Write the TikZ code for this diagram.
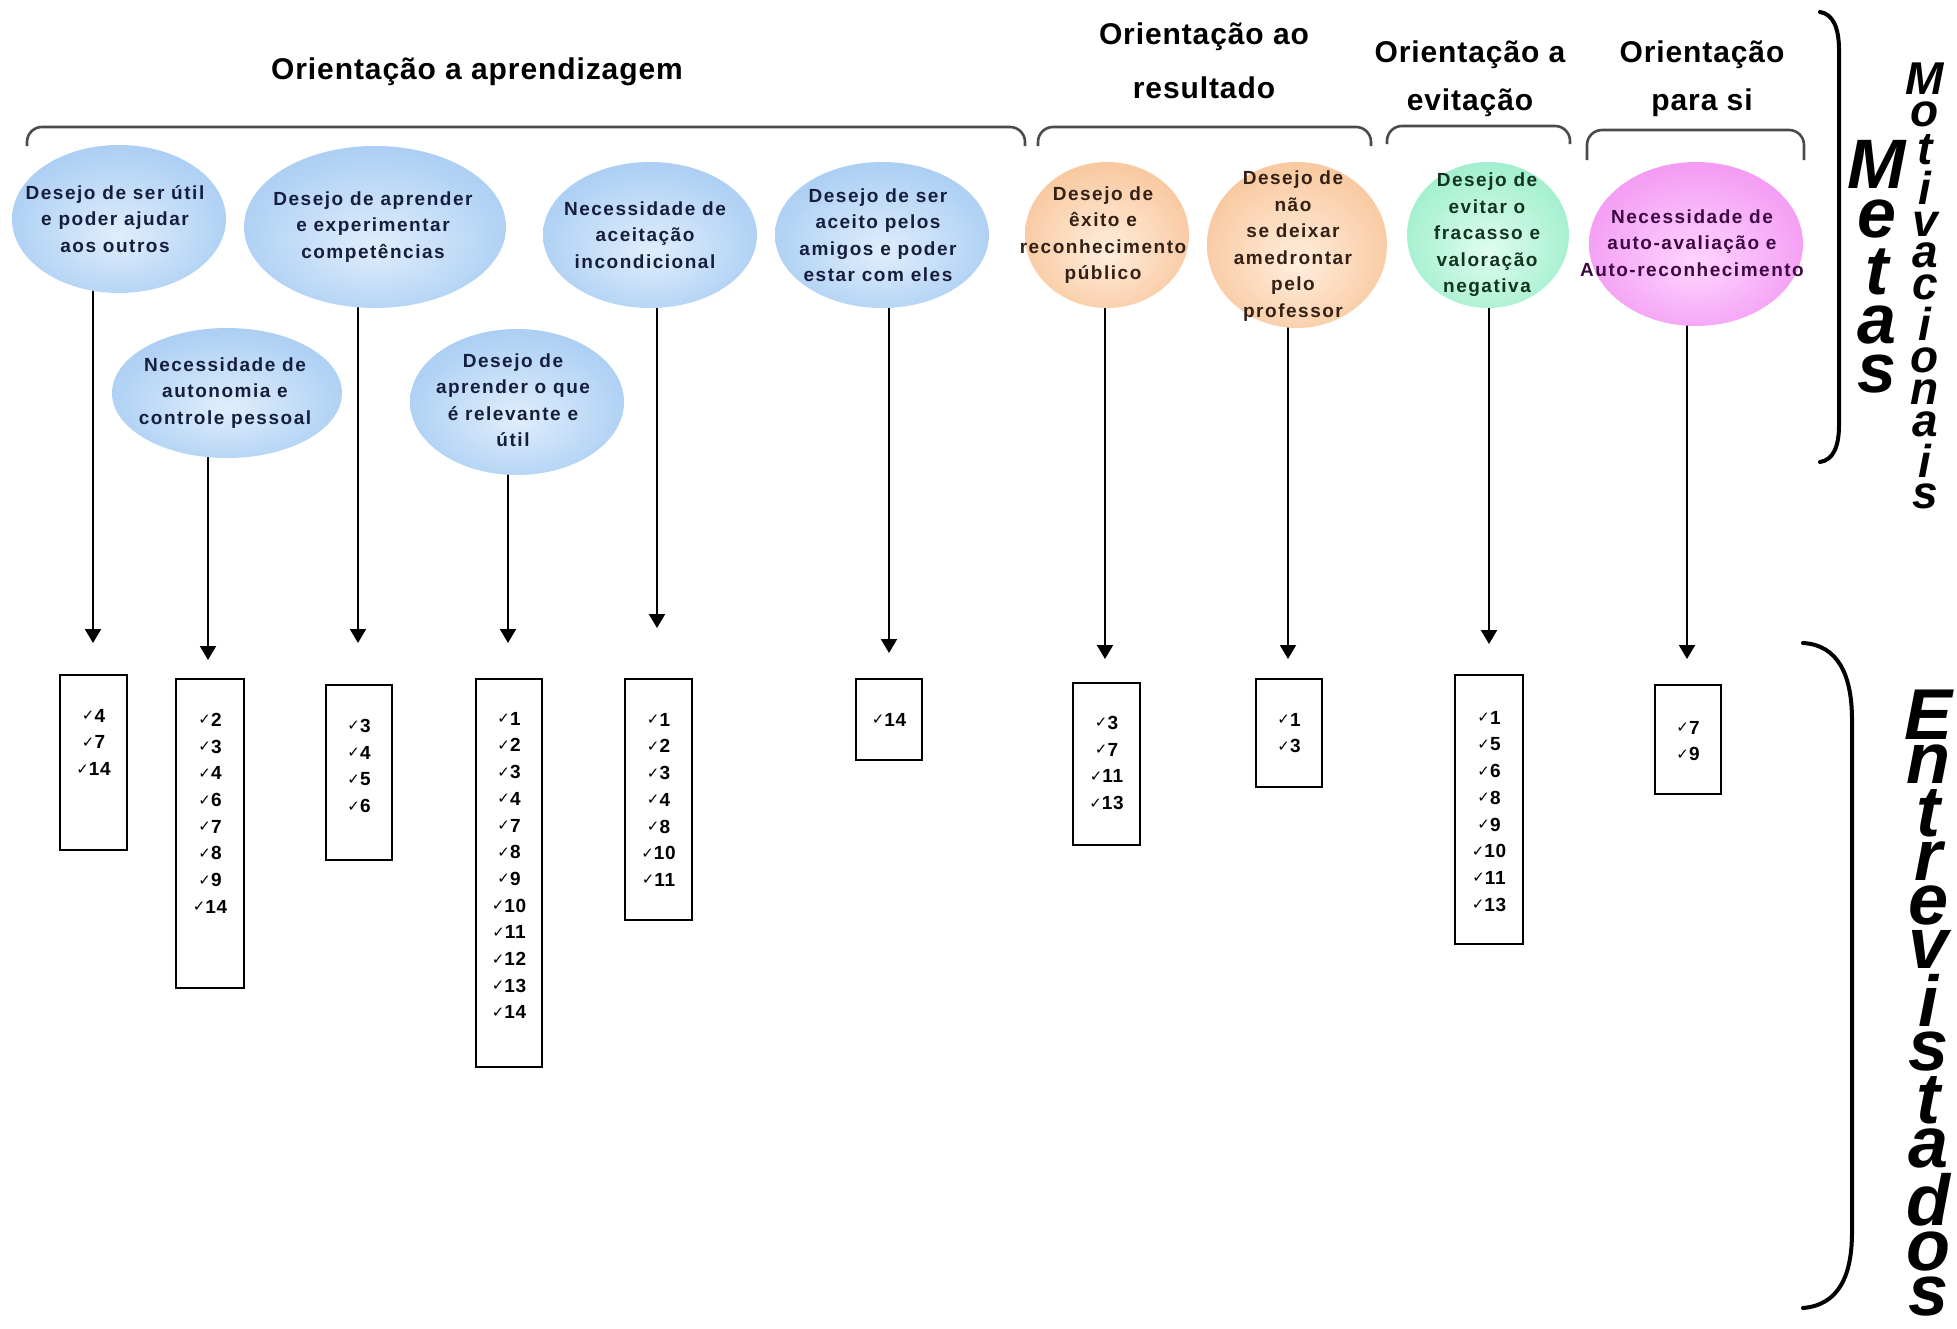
\documentclass[tikz,border=0pt]{standalone}
\usepackage{fontspec}
\setmainfont{Liberation Sans}
\newfontfamily\titlefont[LetterSpace=3]{Liberation Sans}
\newfontfamily\ellfont[LetterSpace=8]{Liberation Sans}
\newfontfamily\numfont[LetterSpace=4]{Liberation Sans}
\newfontfamily\chkfont{DejaVu Sans}
\usetikzlibrary{arrows.meta,shapes.geometric}
\pgfdeclarelayer{background}
\pgfsetlayers{background,main}
\colorlet{ellin}{white}
\colorlet{ellout}{blue}
\pgfdeclareradialshading[ellin,ellout]{ellshade}{\pgfpoint{0bp}{-6bp}}{color(0bp)=(ellin); color(44bp)=(ellout); color(50bp)=(ellout)}
\newcommand\vstackletters[2]{\vbox{\baselineskip=-1pt\lineskip=#1\lineskiplimit=0pt\halign{\hfil##\hfil\cr#2\crcr}}}
\newcommand\ck[1]{{\chkfont\fontsize{15}{15}\selectfont\raisebox{1.5pt}{✓}}#1}
\definecolor{blueIn}{RGB}{224,238,252}
\definecolor{blueOut}{RGB}{140,188,238}
\definecolor{orIn}{RGB}{255,238,222}
\definecolor{orOut}{RGB}{245,178,122}
\definecolor{grIn}{RGB}{224,252,240}
\definecolor{grOut}{RGB}{124,232,186}
\definecolor{pkIn}{RGB}{255,214,255}
\definecolor{pkOut}{RGB}{236,120,236}
\definecolor{navy}{RGB}{22,30,62}
\definecolor{brn}{RGB}{52,32,20}
\definecolor{dgr}{RGB}{18,52,32}
\definecolor{dpk}{RGB}{62,8,66}
\definecolor{braceC}{RGB}{75,75,75}
\begin{document}
\begin{tikzpicture}[x=1pt,y=-1pt,
  ell/.style={ellipse, inner sep=0pt, shading=ellshade},
  bluell/.style={ell, /utils/exec={\colorlet{ellin}{blueIn}\colorlet{ellout}{blueOut}}},
  orell/.style={ell, /utils/exec={\colorlet{ellin}{orIn}\colorlet{ellout}{orOut}}},
  grell/.style={ell, /utils/exec={\colorlet{ellin}{grIn}\colorlet{ellout}{grOut}}},
  pkell/.style={ell, /utils/exec={\colorlet{ellin}{pkIn}\colorlet{ellout}{pkOut}}},
  etext/.style={font=\ellfont\bfseries\fontsize{19}{26.5}\selectfont, align=center, inner sep=0pt},
  ttl/.style={font=\titlefont\bfseries\fontsize{30}{36}\selectfont, inner sep=0pt},
  brace/.style={draw=braceC, line width=2.6pt, rounded corners=15pt},
  paren/.style={draw=black, line width=4pt, line cap=round},
  arr/.style={draw=black, line width=2pt, -{Triangle[width=16pt,length=14pt]}},
  box/.style={draw=black, line width=2pt, fill=white, inner sep=0pt, anchor=north west},
  items/.style={font=\numfont\bfseries\fontsize{19}{26.7}\selectfont, align=center, inner sep=0pt, anchor=north},
  stackw/.style={inner sep=0pt, anchor=north}
]
\useasboundingbox (0,0) rectangle (1957,1328);

% titles
\node[ttl] (T1) at (477,72) {Orientação a aprendizagem};
\node[ttl] (T2a) at (1204,37) {Orientação ao};
\node[ttl] (T2b) at (1204,88) {resultado};
\node[ttl] (T3a) at (1470,55) {Orientação a};
\node[ttl] (T3b) at (1470,103) {evitação};
\node[ttl] (T4a) at (1702,55) {Orientação};
\node[ttl] (T4b) at (1702,103) {para si};

% braces
\draw[brace] (27,146) -- (27,127) -- (1025,127) -- (1025,146);
\draw[brace] (1038,146) -- (1038,127) -- (1371,127) -- (1371,146);
\draw[brace] (1387,144) -- (1387,126) -- (1570,126) -- (1570,144);
\draw[brace] (1587,160) -- (1587,130) -- (1804,130) -- (1804,160);

% ellipses
\node[bluell, minimum width=214pt, minimum height=148pt] (E1) at (119,219) {};
\node[bluell, minimum width=262pt, minimum height=162pt] (E2) at (375,227) {};
\node[bluell, minimum width=230pt, minimum height=130pt] (E3) at (227,393) {};
\node[bluell, minimum width=214pt, minimum height=146pt] (E4) at (517,402) {};
\node[bluell, minimum width=214pt, minimum height=146pt] (E5) at (650,235) {};
\node[bluell, minimum width=214pt, minimum height=146pt] (E6) at (882,235) {};
\node[orell, minimum width=164pt, minimum height=146pt] (E7) at (1107,235) {};
\node[orell, minimum width=180pt, minimum height=166pt] (E8) at (1297,245) {};
\node[grell, minimum width=162pt, minimum height=146pt] (E9) at (1488,235) {};
\node[pkell, minimum width=214pt, minimum height=164pt] (E10) at (1696,244) {};

\node[etext, text=navy] (E1t) at (115,219) {Desejo de ser útil\\e poder ajudar\\aos outros};
\node[etext, text=navy] (E2t) at (373,227) {Desejo de aprender\\e experimentar\\competências};
\node[etext, text=navy] (E3t) at (225,393) {Necessidade de\\autonomia e\\controle pessoal};
\node[etext, text=navy] (E4t) at (513,400) {Desejo de\\aprender o que\\é relevante e\\útil};
\node[etext, text=navy] (E5t) at (645,235) {Necessidade de\\aceitação\\incondicional};
\node[etext, text=navy] (E6t) at (878,235) {Desejo de ser\\aceito pelos\\amigos e poder\\estar com eles};
\node[etext, text=brn] (E7t) at (1103,235) {Desejo de\\êxito e\\reconhecimento\\público};
\node[etext, text=brn] (E8t) at (1293,246) {Desejo de\\não\\se deixar\\amedrontar\\pelo\\professor};
\node[etext, text=dgr] (E9t) at (1487,235) {Desejo de\\evitar o\\fracasso e\\valoração\\negativa};
\node[etext, text=dpk] (E10t) at (1692,243) {Necessidade de\\auto-avaliação e\\Auto-reconhecimento};

% boxes
\node[box, minimum width=67pt, minimum height=175pt] (R1) at (59,674) {};
\node[box, minimum width=68pt, minimum height=309pt] (R2) at (175,678) {};
\node[box, minimum width=66pt, minimum height=175pt] (R3) at (325,684) {};
\node[box, minimum width=66pt, minimum height=388pt] (R4) at (475,678) {};
\node[box, minimum width=67pt, minimum height=241pt] (R5) at (624,678) {};
\node[box, minimum width=66pt, minimum height=81pt] (R6) at (855,678) {};
\node[box, minimum width=67pt, minimum height=162pt] (R7) at (1072,682) {};
\node[box, minimum width=66pt, minimum height=108pt] (R8) at (1255,678) {};
\node[box, minimum width=68pt, minimum height=269pt] (R9) at (1454,674) {};
\node[box, minimum width=66pt, minimum height=109pt] (R10) at (1654,684) {};

\node[items] (L1) at ([yshift=-35pt]R1.north) {\ck{4}\\\ck{7}\\\ck{14}};
\node[items] (L2) at ([yshift=-35pt]R2.north) {\ck{2}\\\ck{3}\\\ck{4}\\\ck{6}\\\ck{7}\\\ck{8}\\\ck{9}\\\ck{14}};
\node[items] (L3) at ([yshift=-35pt]R3.north) {\ck{3}\\\ck{4}\\\ck{5}\\\ck{6}};
\node[items] (L4) at ([yshift=-34pt]R4.north) {\ck{1}\\\ck{2}\\\ck{3}\\\ck{4}\\\ck{7}\\\ck{8}\\\ck{9}\\\ck{10}\\\ck{11}\\\ck{12}\\\ck{13}\\\ck{14}};
\node[items] (L5) at ([yshift=-35pt]R5.north) {\ck{1}\\\ck{2}\\\ck{3}\\\ck{4}\\\ck{8}\\\ck{10}\\\ck{11}};
\node[items] (L6) at ([yshift=-35pt]R6.north) {\ck{14}};
\node[items] (L7) at ([yshift=-34pt]R7.north) {\ck{3}\\\ck{7}\\\ck{11}\\\ck{13}};
\node[items] (L8) at ([yshift=-35pt]R8.north) {\ck{1}\\\ck{3}};
\node[items] (L9) at ([yshift=-37pt]R9.north) {\ck{1}\\\ck{5}\\\ck{6}\\\ck{8}\\\ck{9}\\\ck{10}\\\ck{11}\\\ck{13}};
\node[items] (L10) at ([yshift=-37pt]R10.north) {\ck{7}\\\ck{9}};

% arrow tips
\coordinate (T1p) at (93,643);
\coordinate (T2p) at (208,660);
\coordinate (T3p) at (358,643);
\coordinate (T4p) at (508,643);
\coordinate (T5p) at (657,628);
\coordinate (T6p) at (889,653);
\coordinate (T7p) at (1105,659);
\coordinate (T8p) at (1288,659);
\coordinate (T9p) at (1489,644);
\coordinate (T10p) at (1687,659);

% right-hand brackets and vertical words
\draw[paren] (1820,12) .. controls (1833,14) and (1839,28) .. (1839,50) -- (1839,425) .. controls (1839,447) and (1833,460) .. (1820,462);
\draw[paren] (1803,643) .. controls (1838,645) and (1852,675) .. (1852,720) -- (1852,1232) .. controls (1852,1277) and (1838,1305) .. (1803,1308);

\node[stackw, font=\bfseries\itshape\fontsize{70}{70}\selectfont] (metas) at (1877,140) {\vstackletters{11pt}{M\cr e\cr t\cr a\cr s}};
\node[stackw, font=\bfseries\itshape\fontsize{46}{46}\selectfont] (motiv) at (1925,63) {\vstackletters{7pt}{M\cr o\cr t\cr i\cr v\cr a\cr c\cr i\cr o\cr n\cr a\cr i\cr s}};
\node[stackw, font=\bfseries\itshape\fontsize{72}{72}\selectfont] (entrev) at (1928,690) {\vstackletters{5.3pt}{E\cr n\cr t\cr r\cr e\cr v\cr i\cr s\cr t\cr a\cr d\cr o\cr s}};

\begin{pgfonlayer}{background}
\fill[white] (0,0) rectangle (1957,1328);
\draw[arr] (T1p |- E1.center) -- (T1p);
\draw[arr] (T2p |- E3.center) -- (T2p);
\draw[arr] (T3p |- E2.center) -- (T3p);
\draw[arr] (T4p |- E4.center) -- (T4p);
\draw[arr] (T5p |- E5.center) -- (T5p);
\draw[arr] (T6p |- E6.center) -- (T6p);
\draw[arr] (T7p |- E7.center) -- (T7p);
\draw[arr] (T8p |- E8.center) -- (T8p);
\draw[arr] (T9p |- E9.center) -- (T9p);
\draw[arr] (T10p |- E10.center) -- (T10p);
\end{pgfonlayer}
\end{tikzpicture}
\end{document}
